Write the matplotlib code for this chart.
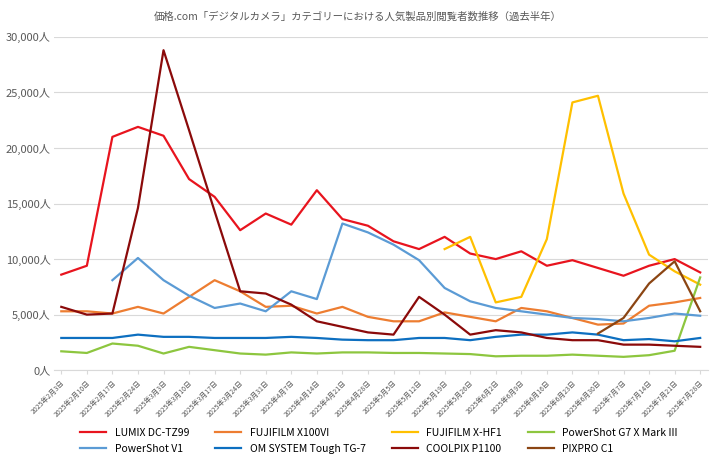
import matplotlib
matplotlib.use("Agg")
import matplotlib.pyplot as plt
import numpy as np

plt.rcParams["font.family"] = "Noto Sans CJK JP"

dates = ["2/3", "2/10", "2/17", "2/24", "3/3", "3/10", "3/17", "3/24", "3/31",
         "4/7", "4/14", "4/21", "4/28", "5/5", "5/12", "5/19", "5/26", "6/2",
         "6/9", "6/16", "6/23", "6/30", "7/7", "7/14", "7/21", "7/28"]
labels = ["2025年%s月%s日" % tuple(d.split("/")) for d in dates]

nan = np.nan
lumix = [8.6, 9.4, 21.0, 21.9, 21.1, 17.2, 15.6, 12.6, 14.1, 13.1, 16.2, 13.6, 13.0,
         11.6, 10.9, 12.0, 10.5, 10.0, 10.7, 9.4, 9.9, 9.2, 8.5, 9.4, 10.0, 8.8]
x100vi = [5.3, 5.3, 5.1, 5.7, 5.1, 6.6, 8.1, 7.1, 5.7, 5.8, 5.1, 5.7, 4.8,
          4.4, 4.4, 5.2, 4.8, 4.4, 5.6, 5.3, 4.7, 4.1, 4.2, 5.8, 6.1, 6.5]
xhf1 = [nan] * 15 + [10.9, 12.0, 6.1, 6.6, 11.8, 24.1, 24.7, 15.9, 10.4, 8.9, 7.7]
g7x = [1.7, 1.55, 2.4, 2.2, 1.5, 2.1, 1.8, 1.5, 1.4, 1.6, 1.5, 1.6, 1.6,
       1.55, 1.55, 1.5, 1.45, 1.25, 1.3, 1.3, 1.4, 1.3, 1.2, 1.35, 1.75, 8.35]
v1 = [nan, nan, 8.1, 10.1, 8.1, 6.7, 5.6, 6.0, 5.3, 7.1, 6.4, 13.2, 12.4,
      11.3, 9.9, 7.4, 6.2, 5.6, 5.3, 5.0, 4.7, 4.6, 4.4, 4.7, 5.1, 4.9]
tg7 = [2.9, 2.9, 2.9, 3.2, 3.0, 3.0, 2.9, 2.9, 2.9, 3.0, 2.9, 2.75, 2.7,
       2.7, 2.9, 2.9, 2.7, 3.0, 3.2, 3.2, 3.4, 3.2, 2.7, 2.8, 2.6, 2.9]
p1100 = [5.7, 5.0, 5.1, 14.6, 28.8, 21.6, 14.3, 7.1, 6.9, 5.9, 4.4, 3.9, 3.4,
         3.2, 6.6, 5.0, 3.2, 3.6, 3.4, 2.9, 2.7, 2.7, 2.3, 2.3, 2.2, 2.1]
c1 = [nan] * 21 + [3.3, 4.7, 7.8, 9.8, 5.3]

series = [
    ("LUMIX DC-TZ99", lumix, "#e8141e"),
    ("FUJIFILM X100VI", x100vi, "#ed7d31"),
    ("FUJIFILM X-HF1", xhf1, "#ffc000"),
    ("PowerShot G7 X Mark III", g7x, "#8dc63f"),
    ("PowerShot V1", v1, "#5b9bd5"),
    ("OM SYSTEM Tough TG-7", tg7, "#0d6fc0"),
    ("COOLPIX P1100", p1100, "#8b0a0a"),
    ("PIXPRO C1", c1, "#8b4513"),
]

fig = plt.figure(figsize=(7.15, 4.61), dpi=100)
ax = fig.add_axes([0.075, 0.197, 0.915, 0.723])
x = np.arange(len(dates))
lines = []
for name, vals, col in series:
    ln, = ax.plot(x, np.array(vals) * 1000, color=col, lw=1.6, label=name)
    lines.append(ln)

ax.set_xlim(-0.3, 25.3)
ax.set_ylim(0, 30000)
ax.set_yticks(range(0, 30001, 5000))
ax.set_yticklabels(["{:,}人".format(v) for v in range(0, 30001, 5000)],
                   fontsize=8, color="#595959")
ax.set_xticks(x)
ax.set_xticklabels(labels, rotation=45, ha="right", rotation_mode="anchor",
                   fontsize=5, color="#595959")
ax.grid(axis="y", color="#d9d9d9", lw=0.8)
ax.set_axisbelow(True)
for s in ax.spines.values():
    s.set_visible(False)
ax.spines["bottom"].set_visible(True)
ax.spines["bottom"].set_color("#d9d9d9")
ax.tick_params(axis="y", length=0, pad=2)
ax.tick_params(axis="x", length=3, color="#d9d9d9")

fig.suptitle("価格.com「デジタルカメラ」カテゴリーにおける人気製品別閲覧者数推移（過去半年）",
             y=0.975, fontsize=7.5, color="#595959")
# matplotlib fills legend columns first; reorder so rows read left to right
order = [0, 4, 1, 5, 2, 6, 3, 7]
fig.legend([lines[i] for i in order], [series[i][0] for i in order],
           loc="lower center", ncol=4, bbox_to_anchor=(0.53, -0.005), frameon=False,
           fontsize=7.5, handlelength=2.5, columnspacing=2.5, labelspacing=0.6)

fig.savefig("out.png", dpi=100)
